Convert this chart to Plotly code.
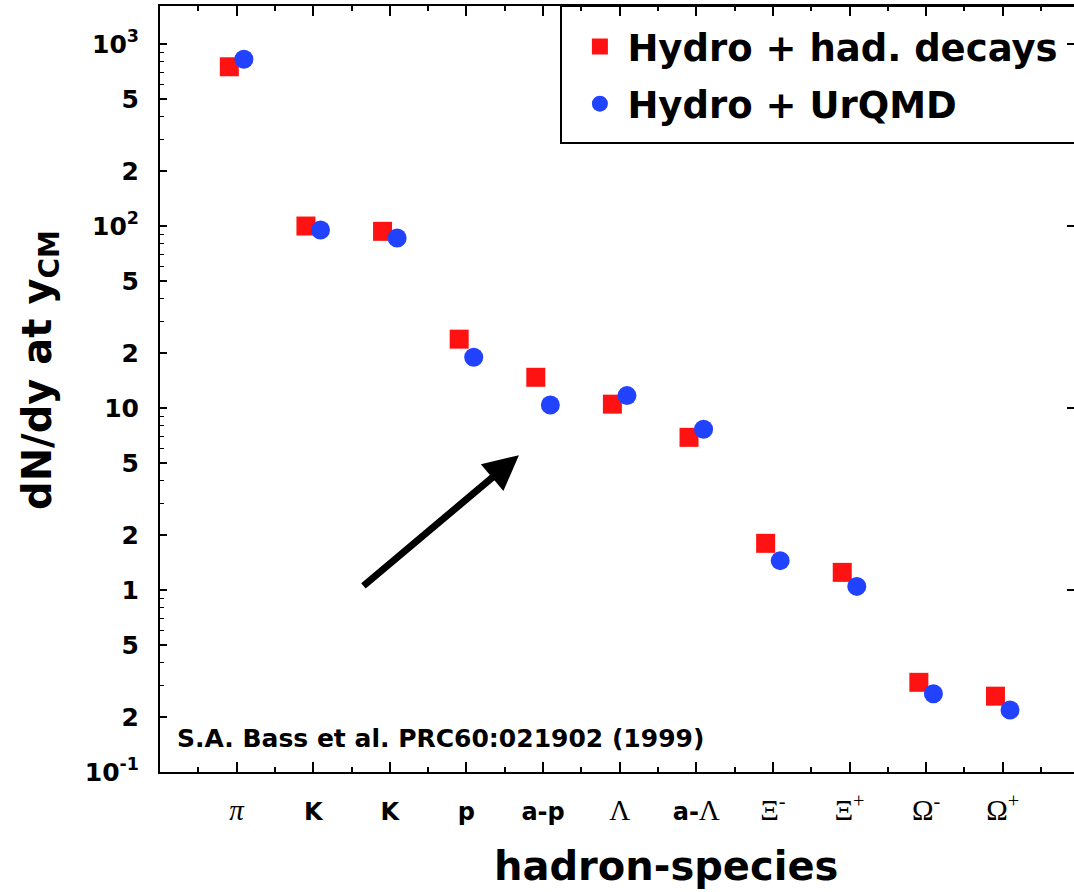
import numpy as np
import plotly.graph_objects as go

# ---------------- data ----------------
species = ["π", "K", "K", "p", "a-p", "Λ", "a-Λ", "Ξ-", "Ξ+", "Ω-", "Ω+"]
SERIF = "font-family:Liberation Serif;font-weight:normal;font-size:29px"
species_labels = [
    f"<span style='{SERIF}'><i>π</i></span>",
    "K", "K", "p", "a-p",
    f"<span style='{SERIF}'>Λ</span>",
    f"a-<span style='{SERIF}'>Λ</span>",
    f"<span style='{SERIF}'>Ξ<sup>-</sup></span>",
    f"<span style='{SERIF}'>Ξ<sup>+</sup></span>",
    f"<span style='{SERIF}'>Ω<sup>-</sup></span>",
    f"<span style='{SERIF}'>Ω<sup>+</sup></span>",
]
hydro_had_decays = [750, 100, 93.5, 23.9, 14.75, 10.5, 6.9, 1.805, 1.25, 0.311, 0.261]
hydro_urqmd = [824, 95, 85.9, 19.0, 10.4, 11.7, 7.64, 1.45, 1.047, 0.269, 0.219]

y_tick_vals = [0.1, 0.2, 0.5, 1, 2, 5, 10, 20, 50, 100, 200, 500, 1000]
y_tick_text = ["10<sup>-1</sup>", "2", "5", "1", "2", "5", "10", "2", "5",
               "10<sup>2</sup>", "2", "5", "10<sup>3</sup>"]
y_minor_vals = [m * 10.0 ** e for e in range(-1, 4) for m in (2, 3, 4, 5, 6, 7, 8, 9)]
decades = [0.1, 1, 10, 100, 1000]

# ---------------- figure ----------------
pos = np.arange(1, len(species) + 1)
shift = 0.095
RED = "#ff1212"
BLUE = "#2142ff"
FONT = "DejaVu Sans"

fig = go.Figure()
fig.add_trace(go.Scatter(
    x=pos - shift, y=hydro_had_decays, mode="markers",
    name="Hydro + had. decays", legendgroup="a",
    marker=dict(symbol="square", size=19, color=RED, line=dict(width=0)),
))
fig.add_trace(go.Scatter(
    x=pos + shift, y=hydro_urqmd, mode="markers",
    name="Hydro + UrQMD", legendgroup="b",
    marker=dict(symbol="circle", size=19, color=BLUE, line=dict(width=0)),
))
# helper trace for right-side ticks
fig.add_trace(go.Scatter(x=[None], y=[None], yaxis="y2", showlegend=False,
                         hoverinfo="skip", mode="markers"))

yrange = [-1, 3.209]
fig.update_layout(
    width=1074, height=892,
    margin=dict(l=160, r=0, t=6, b=120, autoexpand=False),
    paper_bgcolor="white", plot_bgcolor="white",
    font=dict(family=FONT, color="black", weight="bold"),
    showlegend=True,
    legend=dict(
        x=0.4512, y=1 - 10 / 766, xanchor="left", yanchor="top",
        bgcolor="rgba(0,0,0,0)", borderwidth=0,
        font=dict(family=FONT, size=37, color="black", weight="bold"),
        itemsizing="trace", itemwidth=45,
        traceorder="grouped", tracegroupgap=6,
    ),
    xaxis=dict(
        range=[0, 11.93], tickmode="array", tickvals=pos, ticktext=species_labels,
        showline=True, linecolor="black", linewidth=2, mirror="ticks",
        ticks="inside", ticklen=10, tickwidth=1.5, tickcolor="black",
        ticklabelstandoff=17,
        tickfont=dict(family=FONT, size=24, color="black", weight="bold"),
        minor=dict(tickvals=list(np.arange(0.5, 12, 1.0)), ticks="inside",
                   ticklen=5, tickwidth=1.5, tickcolor="black"),
        showgrid=False, zeroline=False, automargin=False,
    ),
    yaxis=dict(
        type="log", range=yrange, tickmode="array", tickvals=y_tick_vals,
        ticktext=y_tick_text,
        showline=True, linecolor="black", linewidth=2, mirror=False,
        ticks="inside", ticklen=7, tickwidth=1.5, tickcolor="black",
        ticklabelstandoff=14,
        tickfont=dict(family=FONT, size=25, color="black", weight="bold"),
        minor=dict(tickvals=y_minor_vals, ticks="inside", ticklen=4,
                   tickwidth=1.2, tickcolor="black"),
        showgrid=False, zeroline=False, automargin=False,
    ),
    yaxis2=dict(
        type="log", range=yrange, overlaying="y", side="right",
        tickmode="array", tickvals=decades, showticklabels=False,
        ticks="inside", ticklen=7, tickwidth=1.5, tickcolor="black",
        showline=False, showgrid=False, zeroline=False, automargin=False,
    ),
)

# legend frame (extends past the right edge like the original)
fig.add_shape(type="rect", xref="paper", yref="paper",
              x0=(561 - 160) / 914, x1=1.05, y0=(772 - 143) / 766, y1=1.0,
              line=dict(color="black", width=2), fillcolor="rgba(0,0,0,0)", layer="above")

# axis titles
fig.add_annotation(text="hadron-species", xref="paper", yref="paper",
                   x=(666 - 160) / 914, y=(772 - 866) / 766, xanchor="center", yanchor="middle",
                   showarrow=False, font=dict(family=FONT, size=40, color="black", weight="bold"))
fig.add_annotation(text="dN/dy at y<sub>CM</sub>", xref="paper", yref="paper",
                   x=(40 - 160) / 914, y=(772 - 370) / 766, xanchor="center", yanchor="middle",
                   textangle=-90, showarrow=False,
                   font=dict(family=FONT, size=40, color="black", weight="bold"))
# reference note
fig.add_annotation(text="S.A. Bass et al. PRC60:021902 (1999)", xref="paper", yref="paper",
                   x=(175 - 160) / 914, y=(772 - 738) / 766, xanchor="left", yanchor="middle",
                   showarrow=False, font=dict(family=FONT, size=25, color="black", weight="bold"))
# arrow pointing at anti-proton
fig.add_annotation(x=4.685, y=0.741, xref="x", yref="y", text="", showarrow=True,
                   ax=-157, ay=132, arrowhead=2, arrowsize=1, arrowwidth=7,
                   arrowcolor="black")

fig.write_html("out.html")
